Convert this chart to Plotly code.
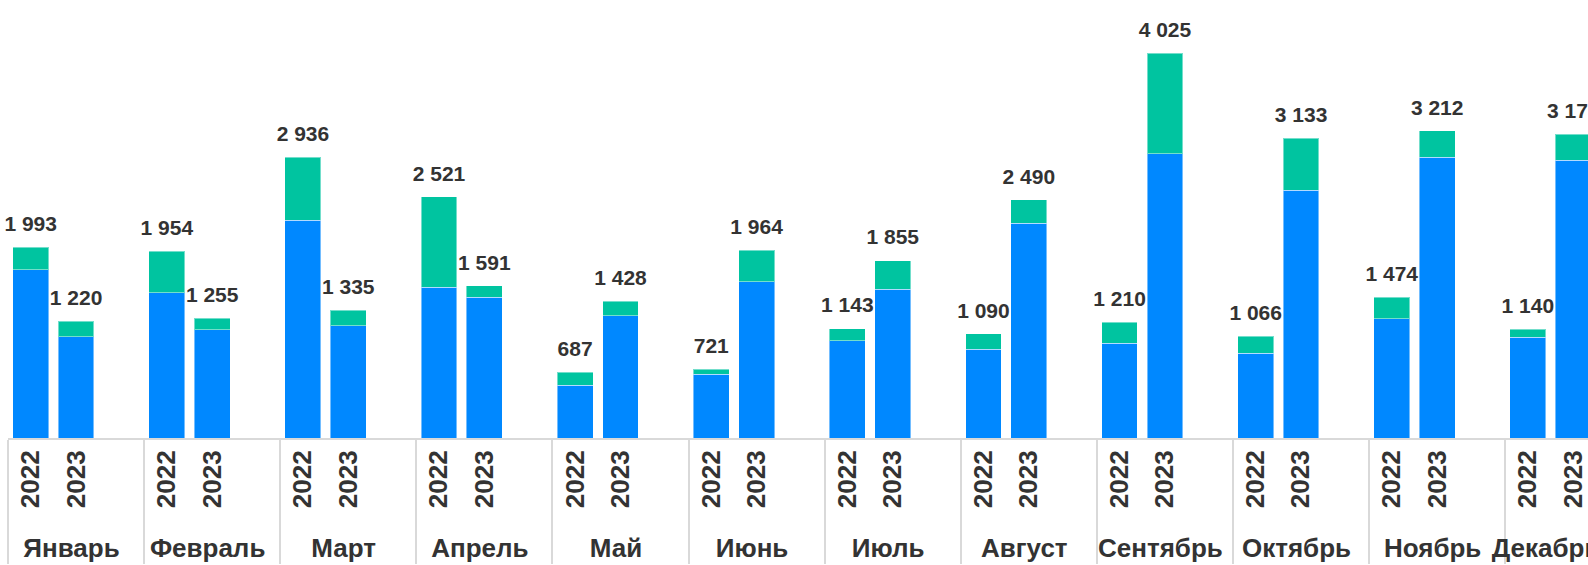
import plotly.graph_objects as go

months = ["Январь", "Февраль", "Март", "Апрель", "Май", "Июнь", "Июль",
          "Август", "Сентябрь", "Октябрь", "Ноябрь", "Декабрь"]
years = ["2022", "2023", " "]

blue_2022 = [1760, 1520, 2277, 1576, 551, 666, 1018, 928, 990, 889, 1248, 1053]
green_2022 = [233, 434, 659, 945, 136, 55, 125, 162, 220, 177, 226, 87]
blue_2023 = [1060, 1133, 1175, 1472, 1279, 1635, 1555, 2246, 2974, 2591, 2936, 2905]
green_2023 = [160, 122, 160, 119, 149, 329, 300, 244, 1051, 542, 276, 270]
total_2022 = [1993, 1954, 2936, 2521, 687, 721, 1143, 1090, 1210, 1066, 1474, 1140]
total_2023 = [1220, 1255, 1335, 1591, 1428, 1964, 1855, 2490, 4025, 3133, 3212, 3175]

BLUE = "#0088FF"
GREEN = "#00C4A0"
TXT = "#333333"
FONT = "Arial, Liberation Sans, sans-serif"

xm, xy, blue, green, tot = [], [], [], [], []
for i, m in enumerate(months):
    for y in years:
        xm.append(m)
        xy.append(y)
        if y == "2022":
            blue.append(blue_2022[i]); green.append(green_2022[i]); tot.append(total_2022[i])
        elif y == "2023":
            blue.append(blue_2023[i]); green.append(green_2023[i]); tot.append(total_2023[i])
        else:
            blue.append(None); green.append(None); tot.append(None)

labels = [("" if v is None else f"{v:,}".replace(",", " ")) for v in tot]

fig = go.Figure()
fig.add_trace(go.Bar(x=[xm, xy], y=blue,
                     marker=dict(color=BLUE, line=dict(color="rgba(255,255,255,0.45)", width=1)),
                     hoverinfo="skip"))
fig.add_trace(go.Bar(x=[xm, xy], y=green,
                     marker=dict(color=GREEN, line=dict(color="rgba(255,255,255,0.45)", width=1)),
                     hoverinfo="skip"))
fig.add_trace(go.Scatter(x=[xm, xy], y=tot, mode="markers+text", text=labels,
                         textposition="top center",
                         marker=dict(size=16, color="rgba(0,0,0,0)"),
                         textfont=dict(family=FONT, size=21, color=TXT, weight="bold"),
                         cliponaxis=False, hoverinfo="skip"))

step_px = 45.37
left = 8
plot_w = 1588 - left
fig.update_layout(
    width=1588, height=565,
    barmode="stack", bargap=0.21,
    showlegend=False,
    plot_bgcolor="white", paper_bgcolor="white",
    margin=dict(l=left, r=0, t=0, b=127, autoexpand=False),
    xaxis=dict(type="multicategory", range=[-0.5, -0.5 + plot_w / step_px],
               automargin=False,
               tickangle=-90, showline=True, linecolor="#d9d9d9", linewidth=2,
               showdividers=True, dividercolor="#d9d9d9", dividerwidth=2,
               tickfont=dict(family=FONT, size=26, color=TXT, weight="bold"),
               showgrid=False, ticks="outside", ticklen=3, tickcolor="rgba(0,0,0,0)"),
    yaxis=dict(visible=False, range=[0, 438 / 0.0956], showgrid=False, zeroline=False),
)
fig.write_html("out.html", config={"displayModeBar": False},
               post_script="document.body.style.margin='0';")
